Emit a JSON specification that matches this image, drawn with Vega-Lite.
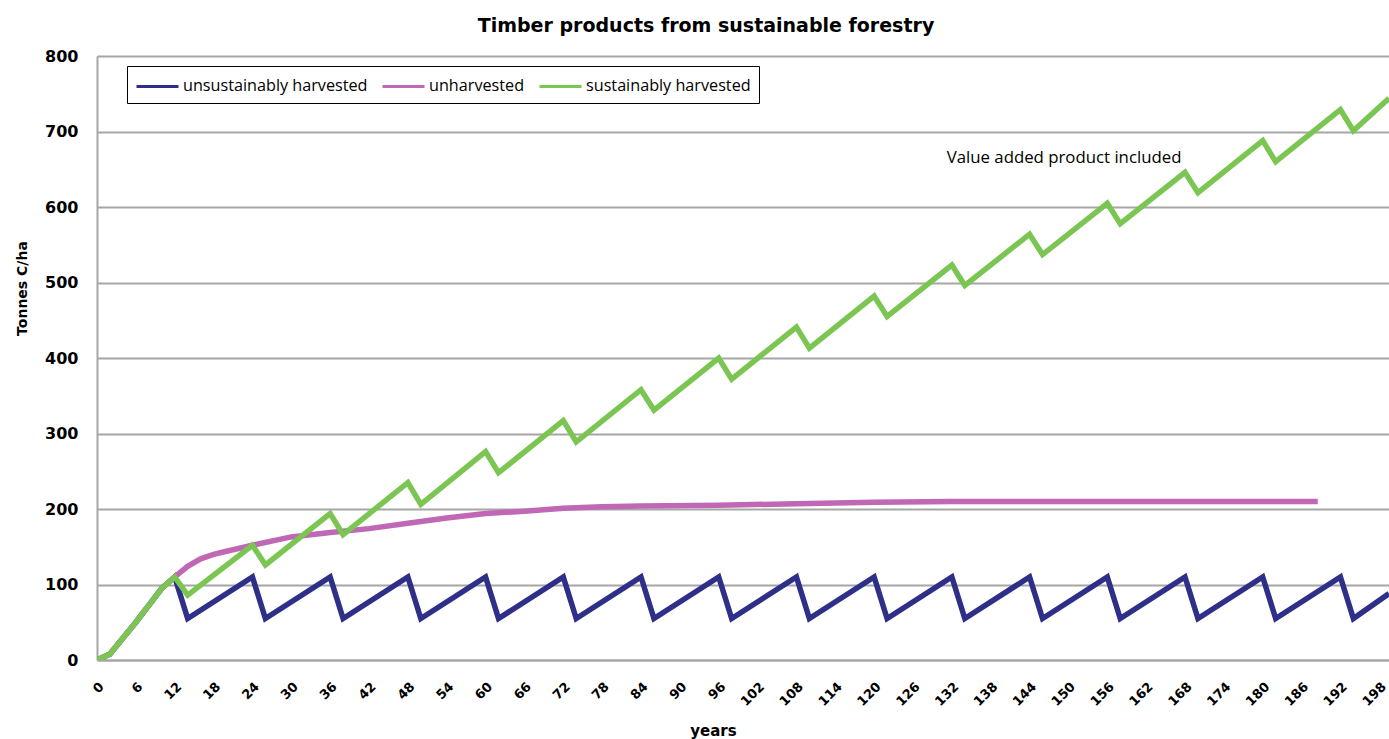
{
  "$schema": "https://vega.github.io/schema/vega-lite/v6.json",
  "width": 1292,
  "height": 604,
  "autosize": {"type": "none"},
  "padding": {"left": 97, "top": 56, "right": 0, "bottom": 79},
  "background": "white",
  "config": {"view": {"stroke": null}, "axis": {"labelOverlap": false}},
  "title": {
    "text": "Timber products from sustainable forestry",
    "font": "DejaVu Sans",
    "fontWeight": "bold",
    "fontSize": 19,
    "color": "black",
    "anchor": "middle",
    "dx": -37,
    "offset": 12
  },
  "datasets": {
    "series": [
      {"year": 0, "value": 0, "series": "unsustainably harvested"},
      {"year": 2, "value": 8, "series": "unsustainably harvested"},
      {"year": 6, "value": 50, "series": "unsustainably harvested"},
      {"year": 10, "value": 95, "series": "unsustainably harvested"},
      {"year": 12, "value": 110, "series": "unsustainably harvested"},
      {"year": 14, "value": 55, "series": "unsustainably harvested"},
      {"year": 24, "value": 110, "series": "unsustainably harvested"},
      {"year": 26, "value": 55, "series": "unsustainably harvested"},
      {"year": 36, "value": 110, "series": "unsustainably harvested"},
      {"year": 38, "value": 55, "series": "unsustainably harvested"},
      {"year": 48, "value": 110, "series": "unsustainably harvested"},
      {"year": 50, "value": 55, "series": "unsustainably harvested"},
      {"year": 60, "value": 110, "series": "unsustainably harvested"},
      {"year": 62, "value": 55, "series": "unsustainably harvested"},
      {"year": 72, "value": 110, "series": "unsustainably harvested"},
      {"year": 74, "value": 55, "series": "unsustainably harvested"},
      {"year": 84, "value": 110, "series": "unsustainably harvested"},
      {"year": 86, "value": 55, "series": "unsustainably harvested"},
      {"year": 96, "value": 110, "series": "unsustainably harvested"},
      {"year": 98, "value": 55, "series": "unsustainably harvested"},
      {"year": 108, "value": 110, "series": "unsustainably harvested"},
      {"year": 110, "value": 55, "series": "unsustainably harvested"},
      {"year": 120, "value": 110, "series": "unsustainably harvested"},
      {"year": 122, "value": 55, "series": "unsustainably harvested"},
      {"year": 132, "value": 110, "series": "unsustainably harvested"},
      {"year": 134, "value": 55, "series": "unsustainably harvested"},
      {"year": 144, "value": 110, "series": "unsustainably harvested"},
      {"year": 146, "value": 55, "series": "unsustainably harvested"},
      {"year": 156, "value": 110, "series": "unsustainably harvested"},
      {"year": 158, "value": 55, "series": "unsustainably harvested"},
      {"year": 168, "value": 110, "series": "unsustainably harvested"},
      {"year": 170, "value": 55, "series": "unsustainably harvested"},
      {"year": 180, "value": 110, "series": "unsustainably harvested"},
      {"year": 182, "value": 55, "series": "unsustainably harvested"},
      {"year": 192, "value": 110, "series": "unsustainably harvested"},
      {"year": 194, "value": 55, "series": "unsustainably harvested"},
      {"year": 199.5, "value": 88, "series": "unsustainably harvested"},

      {"year": 0, "value": 0, "series": "unharvested"},
      {"year": 2, "value": 8, "series": "unharvested"},
      {"year": 6, "value": 50, "series": "unharvested"},
      {"year": 10, "value": 95, "series": "unharvested"},
      {"year": 12, "value": 110, "series": "unharvested"},
      {"year": 14, "value": 124, "series": "unharvested"},
      {"year": 16, "value": 134, "series": "unharvested"},
      {"year": 18, "value": 140, "series": "unharvested"},
      {"year": 20, "value": 144, "series": "unharvested"},
      {"year": 24, "value": 152, "series": "unharvested"},
      {"year": 30, "value": 163, "series": "unharvested"},
      {"year": 36, "value": 169, "series": "unharvested"},
      {"year": 42, "value": 174, "series": "unharvested"},
      {"year": 48, "value": 181, "series": "unharvested"},
      {"year": 54, "value": 188, "series": "unharvested"},
      {"year": 60, "value": 194, "series": "unharvested"},
      {"year": 66, "value": 197, "series": "unharvested"},
      {"year": 72, "value": 201, "series": "unharvested"},
      {"year": 78, "value": 203, "series": "unharvested"},
      {"year": 84, "value": 204, "series": "unharvested"},
      {"year": 96, "value": 205, "series": "unharvested"},
      {"year": 108, "value": 207, "series": "unharvested"},
      {"year": 120, "value": 209, "series": "unharvested"},
      {"year": 132, "value": 210, "series": "unharvested"},
      {"year": 160, "value": 210, "series": "unharvested"},
      {"year": 188.5, "value": 210, "series": "unharvested"},

      {"year": 0, "value": 0, "series": "sustainably harvested"},
      {"year": 2, "value": 8, "series": "sustainably harvested"},
      {"year": 6, "value": 50, "series": "sustainably harvested"},
      {"year": 10, "value": 95, "series": "sustainably harvested"},
      {"year": 12, "value": 110, "series": "sustainably harvested"},
      {"year": 14, "value": 86, "series": "sustainably harvested"},
      {"year": 24, "value": 152, "series": "sustainably harvested"},
      {"year": 26, "value": 126, "series": "sustainably harvested"},
      {"year": 36, "value": 194, "series": "sustainably harvested"},
      {"year": 38, "value": 166, "series": "sustainably harvested"},
      {"year": 48, "value": 235, "series": "sustainably harvested"},
      {"year": 50, "value": 206, "series": "sustainably harvested"},
      {"year": 60, "value": 276, "series": "sustainably harvested"},
      {"year": 62, "value": 248, "series": "sustainably harvested"},
      {"year": 72, "value": 317, "series": "sustainably harvested"},
      {"year": 74, "value": 289, "series": "sustainably harvested"},
      {"year": 84, "value": 358, "series": "sustainably harvested"},
      {"year": 86, "value": 331, "series": "sustainably harvested"},
      {"year": 96, "value": 400, "series": "sustainably harvested"},
      {"year": 98, "value": 372, "series": "sustainably harvested"},
      {"year": 108, "value": 441, "series": "sustainably harvested"},
      {"year": 110, "value": 413, "series": "sustainably harvested"},
      {"year": 120, "value": 482, "series": "sustainably harvested"},
      {"year": 122, "value": 455, "series": "sustainably harvested"},
      {"year": 132, "value": 523, "series": "sustainably harvested"},
      {"year": 134, "value": 496, "series": "sustainably harvested"},
      {"year": 144, "value": 564, "series": "sustainably harvested"},
      {"year": 146, "value": 537, "series": "sustainably harvested"},
      {"year": 156, "value": 605, "series": "sustainably harvested"},
      {"year": 158, "value": 578, "series": "sustainably harvested"},
      {"year": 168, "value": 646, "series": "sustainably harvested"},
      {"year": 170, "value": 619, "series": "sustainably harvested"},
      {"year": 180, "value": 688, "series": "sustainably harvested"},
      {"year": 182, "value": 660, "series": "sustainably harvested"},
      {"year": 192, "value": 729, "series": "sustainably harvested"},
      {"year": 194, "value": 701, "series": "sustainably harvested"},
      {"year": 199.5, "value": 744, "series": "sustainably harvested"}
    ],
    "notes": [
      {"year": 131.2, "value": 665, "label": "Value added product included"}
    ]
  },
  "encoding": {
    "x": {
      "field": "year",
      "type": "quantitative",
      "scale": {"domain": [0, 199.5], "nice": false, "zero": false},
      "axis": {
        "title": "years",
        "titleFont": "DejaVu Sans",
        "titleFontWeight": "bold",
        "titleFontSize": 15,
        "titleColor": "black",
        "titleX": 616,
        "titleY": 70,
        "titleBaseline": "middle",
        "titleAlign": "center",
        "values": [0, 6, 12, 18, 24, 30, 36, 42, 48, 54, 60, 66, 72, 78, 84, 90, 96, 102, 108, 114, 120, 126, 132, 138, 144, 150, 156, 162, 168, 174, 180, 186, 192, 198],
        "labelAngle": -45,
        "labelFont": "DejaVu Sans",
        "labelFontWeight": "bold",
        "labelFontSize": 13,
        "labelColor": "black",
        "labelPadding": 20,
        "labelDx": 1,
        "labelOverlap": false,
        "labelFlush": false,
        "ticks": false,
        "grid": false,
        "domain": true,
        "domainColor": "#a6a6a6",
        "domainWidth": 2
      }
    },
    "y": {
      "field": "value",
      "type": "quantitative",
      "scale": {"domain": [0, 800], "nice": false},
      "axis": {
        "title": "Tonnes C/ha",
        "titleFont": "DejaVu Sans",
        "titleFontWeight": "bold",
        "titleFontSize": 14,
        "titleColor": "black",
        "titleX": -75,
        "titleY": 232,
        "titleAngle": -90,
        "titleBaseline": "middle",
        "titleAlign": "center",
        "values": [0, 100, 200, 300, 400, 500, 600, 700, 800],
        "labelFont": "DejaVu Sans",
        "labelFontWeight": "bold",
        "labelFontSize": 16,
        "labelColor": "black",
        "labelPadding": 19,
        "labelFlush": false,
        "labelOverlap": false,
        "ticks": false,
        "grid": true,
        "gridColor": "#a6a6a6",
        "gridWidth": 2,
        "domain": true,
        "domainColor": "#a6a6a6",
        "domainWidth": 2
      }
    }
  },
  "layer": [
    {
      "data": {"name": "series"},
      "mark": {"type": "line", "strokeWidth": 5.5, "strokeJoin": "miter", "clip": true},
      "encoding": {
        "color": {
          "field": "series",
          "type": "nominal",
          "scale": {
            "domain": ["unsustainably harvested", "unharvested", "sustainably harvested"],
            "range": ["#2e2f88", "#c067b6", "#7bc653"]
          },
          "legend": {
            "title": null,
            "orient": "none",
            "legendX": 30,
            "legendY": 10,
            "direction": "horizontal",
            "strokeColor": "black",
            "fillColor": "white",
            "padding": 8,
            "symbolType": "M-1,0H3",
            "symbolSize": 441,
            "symbolStrokeWidth": 3,
            "labelOffset": 24,
            "labelLimit": 0,
            "columnPadding": 8,
            "labelFont": "Open Sans",
            "labelFontSize": 16.2,
            "labelColor": "black"
          }
        }
      }
    },
    {
      "data": {"name": "notes"},
      "mark": {"type": "text", "align": "left", "baseline": "middle", "font": "Open Sans", "fontSize": 16.8, "color": "black"},
      "encoding": {
        "text": {"field": "label"}
      }
    }
  ]
}
